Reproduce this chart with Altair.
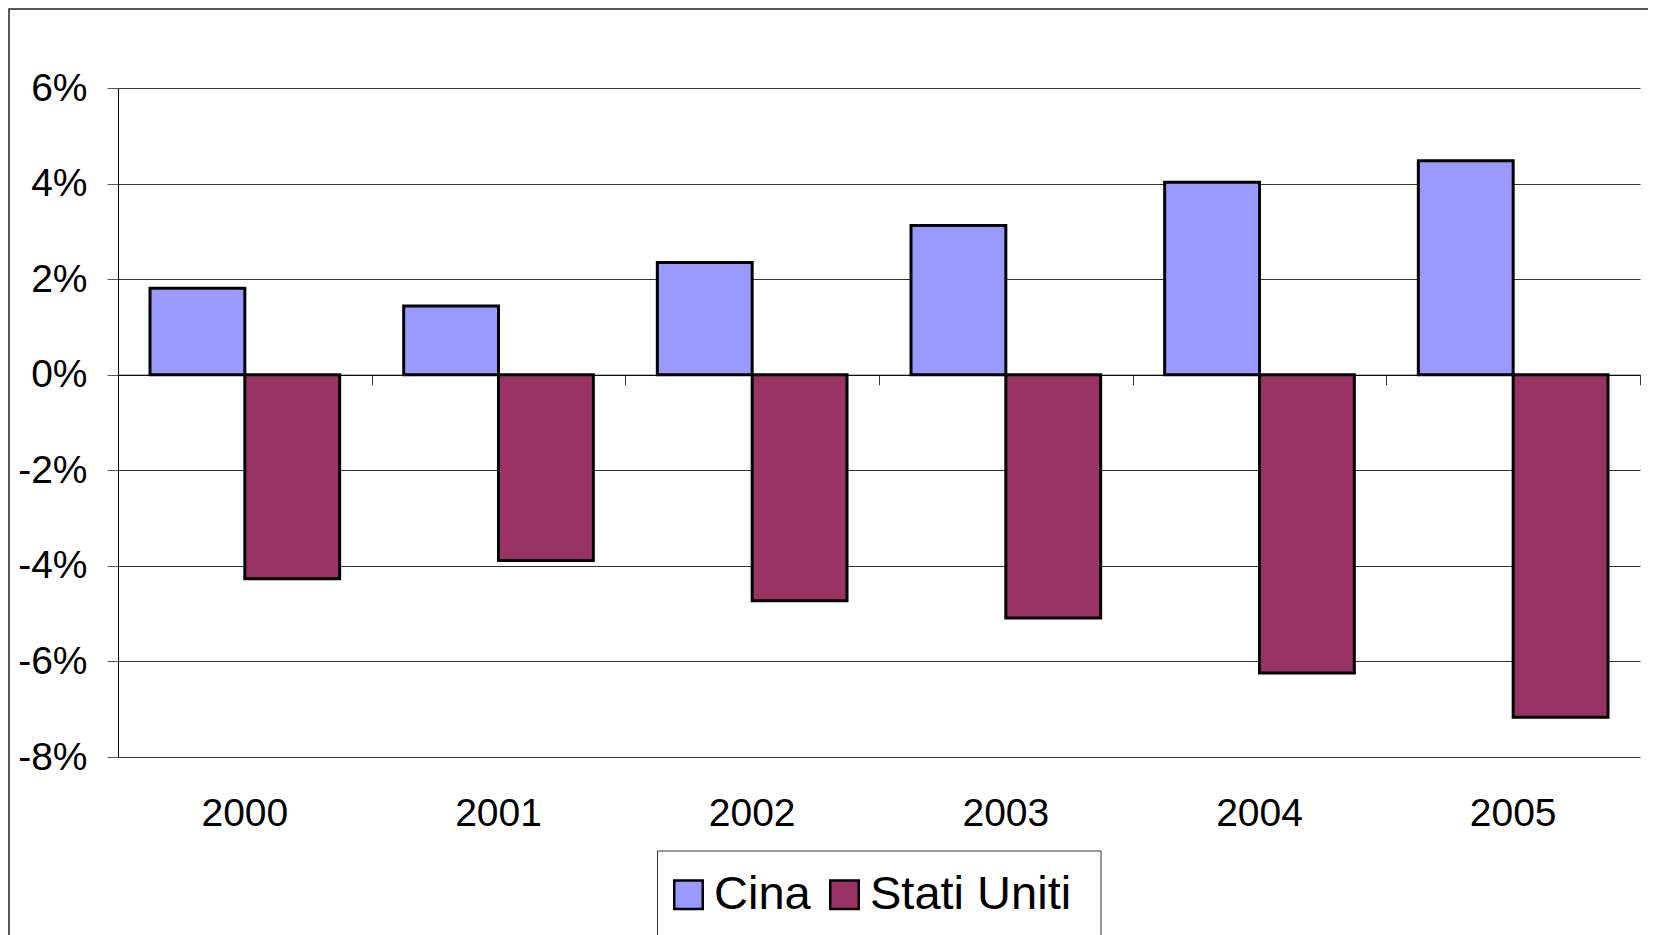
import altair as alt
import pandas as pd

years = ["2000", "2001", "2002", "2003", "2004", "2005"]
cina = [1.81, 1.44, 2.35, 3.12, 4.03, 4.48]
stati_uniti = [-4.27, -3.89, -4.73, -5.09, -6.24, -7.17]
series = ["Cina", "Stati Uniti"]
colors = ["#9999FF", "#993366"]
y_ticks = [-8, -6, -4, -2, 0, 2, 4, 6]

rows = []
for i, yr in enumerate(years):
    rows.append({"Anno": yr, "Paese": "Cina", "Valore": cina[i]})
    rows.append({"Anno": yr, "Paese": "Stati Uniti", "Valore": stati_uniti[i]})
df = pd.DataFrame(rows)

W, H = 1522, 669
FONT = "Liberation Sans"
ZERO_OFFSET = -(H * 8 / 14)

x_scale = alt.Scale(domain=years, paddingInner=0, paddingOuter=0)
y_scale = alt.Scale(domain=[-8, 6], nice=False, zero=False)

bars = alt.Chart(df).mark_bar(stroke="black", strokeWidth=3).encode(
    x=alt.X("Anno:N", scale=x_scale, sort=years,
            axis=alt.Axis(title=None, labelAngle=0, labelFontSize=39, labelFont=FONT,
                          labelColor="black", labelPadding=37, ticks=False, tickSize=0,
                          domain=False, grid=False)),
    xOffset=alt.XOffset("Paese:N", sort=series,
                        scale=alt.Scale(paddingInner=0, paddingOuter=0.3375)),
    y=alt.Y("Valore:Q", scale=y_scale,
            axis=alt.Axis(title=None, values=y_ticks, labelExpr="datum.value + '%'",
                          labelFontSize=39, labelFont=FONT, labelColor="black",
                          labelPadding=20, tickSize=11, tickColor="#555",
                          domainColor="black", gridColor="#333", grid=True)),
    y2=alt.datum(0),
    color=alt.Color("Paese:N", sort=series,
                    scale=alt.Scale(domain=series, range=colors),
                    legend=alt.Legend(title=None, orient="none", legendX=547, legendY=783,
                                      direction="horizontal", columns=2, symbolType="square",
                                      symbolSize=812, symbolStrokeWidth=2.5,
                                      symbolStrokeColor="black", symbolOpacity=1,
                                      labelFontSize=47, labelFont=FONT, labelColor="black",
                                      labelOffset=2, labelLimit=600, columnPadding=10,
                                      padding=0)),
)

zero_axis = alt.Chart(df).mark_point(opacity=0).encode(
    x=alt.X("Anno:N", scale=x_scale, sort=years,
            axis=alt.Axis(title=None, labels=False, orient="bottom", offset=ZERO_OFFSET,
                          tickBand="extent", tickSize=10, tickColor="#333",
                          domainColor="black", domainWidth=1, grid=False)),
)

one = pd.DataFrame({"a": [0]})
frame = alt.Chart(one).mark_rect(fill="transparent", stroke="#222", strokeWidth=1.5).encode(
    x=alt.value(-109), x2=alt.value(W + 80), y=alt.value(-79), y2=alt.value(H + 400)
)
legend_box = alt.Chart(one).mark_rect(fill="transparent", stroke="#333", strokeWidth=1).encode(
    x=alt.value(539.5), x2=alt.value(983), y=alt.value(763), y2=alt.value(H + 300)
)

chart = alt.layer(frame, legend_box, bars, zero_axis).resolve_axis(x="independent").properties(
    width=W, height=H,
    autosize=alt.AutoSizeParams(type="none"),
    padding={"left": 110, "top": 80, "right": 8, "bottom": 178},
).configure_view(strokeWidth=0)

chart.save("out.html", embed_options={"renderer": "svg", "actions": False})
